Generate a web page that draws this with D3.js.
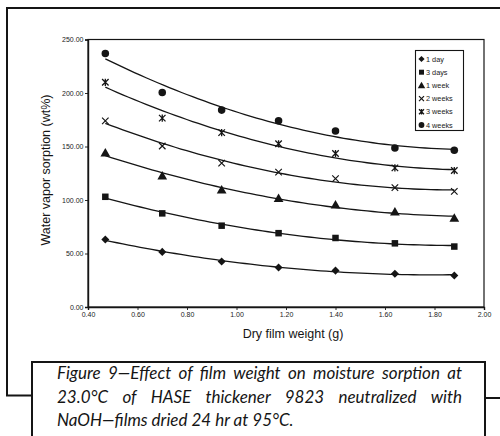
<!DOCTYPE html>
<html>
<head>
<meta charset="utf-8">
<script src="https://cdn.jsdelivr.net/npm/d3@7"></script>
<style>
  html, body { margin: 0; padding: 0; background: #fff; }
  svg { display: block; }
</style>
</head>
<body>
<svg id="chart" width="500" height="436"></svg>
<script>
// Dry film weight (g) for each measured film
const filmWeights = [0.47, 0.70, 0.94, 1.17, 1.40, 1.64, 1.88];

// Water vapor sorption (wt%) after each exposure time
const day1   = [63, 51.5, 42.5, 37, 34, 31, 29.5];
const days3  = [103, 87.5, 76, 69, 64.5, 59.5, 56.5];
const week1  = [144, 122.5, 109.5, 101.5, 95.5, 89, 83];
const weeks2 = [174, 150.5, 134.5, 126, 120, 111.5, 108];
const weeks3 = [210, 176.5, 163, 152.5, 143.5, 130, 127.5];
const weeks4 = [237, 200.5, 184, 174, 164.5, 148.5, 146.5];

const seriesNames = ["1 day", "3 days", "1 week", "2 weeks", "3 weeks", "4 weeks"];
const seriesMarkers = ["diamond", "square", "triangle", "cross", "asterisk", "circle"];
const seriesValues = [day1, days3, week1, weeks2, weeks3, weeks4];

const xTicks = [0.4, 0.6, 0.8, 1.0, 1.2, 1.4, 1.6, 1.8, 2.0];
const yTicks = [0, 50, 100, 150, 200, 250];

const captionLines = [
  "Figure 9\u2014Effect of film weight on moisture sorption at",
  "23.0\u00B0C of HASE thickener 9823 neutralized with",
  "NaOH\u2014films dried 24 hr at 95\u00B0C."
];

const svg = d3.select("#chart");
const ink = "#151515";

// outer page rule: top, left, and the joins to the caption box
svg.append("path")
  .attr("d", "M500,8 L7,8 L7,395.5 L32,395.5")
  .attr("fill", "none").attr("stroke", ink).attr("stroke-width", 2);
svg.append("line")
  .attr("x1", 485).attr("x2", 500).attr("y1", 398).attr("y2", 398)
  .attr("stroke", ink).attr("stroke-width", 2);

// plot area
const x = d3.scaleLinear().domain([0.4, 2.0]).range([88, 484]);
const y = d3.scaleLinear().domain([0, 250]).range([307, 39.5]);

svg.append("rect")
  .attr("x", x(0.4)).attr("y", y(250))
  .attr("width", x(2.0) - x(0.4)).attr("height", y(0) - y(250))
  .attr("fill", "none").attr("stroke", ink).attr("stroke-width", 1.2);

const fmt = d3.format(".2f");
const xAxis = svg.append("g")
  .attr("transform", `translate(0,${y(0)})`)
  .call(d3.axisBottom(x).tickValues(xTicks).tickFormat(fmt).tickSize(3).tickPadding(2));
const yAxis = svg.append("g")
  .attr("transform", `translate(${x(0.4)},0)`)
  .call(d3.axisLeft(y).tickValues(yTicks).tickFormat(fmt).tickSize(3).tickPadding(1.5));

[xAxis, yAxis].forEach(g => {
  g.select(".domain").attr("stroke", ink).attr("stroke-width", 1.4);
  g.selectAll(".tick line").attr("stroke", ink).attr("stroke-width", 0.9);
  g.selectAll(".tick text")
    .attr("fill", "#222")
    .style("font-family", "'Liberation Sans', Arial, sans-serif")
    .style("font-size", "7px");
});

// axis titles
svg.append("text")
  .attr("x", 293).attr("y", 338)
  .attr("text-anchor", "middle")
  .style("font-family", "'Liberation Sans', Arial, sans-serif")
  .style("font-size", "12.5px")
  .attr("fill", ink)
  .text("Dry film weight (g)");

svg.append("text")
  .attr("transform", "translate(50,170) rotate(-90)")
  .attr("text-anchor", "middle")
  .style("font-family", "'Liberation Sans', Arial, sans-serif")
  .style("font-size", "12.5px")
  .attr("fill", ink)
  .text("Water vapor sorption (wt%)");

// second-order least-squares trend line through each series
function quadFit(xs, ys) {
  let n = xs.length, s = [0, 0, 0, 0, 0], t = [0, 0, 0];
  for (let i = 0; i < n; i++) {
    const xi = xs[i], yi = ys[i];
    for (let k = 0; k < 5; k++) s[k] += Math.pow(xi, k);
    for (let k = 0; k < 3; k++) t[k] += yi * Math.pow(xi, k);
  }
  const A = [[s[0], s[1], s[2], t[0]], [s[1], s[2], s[3], t[1]], [s[2], s[3], s[4], t[2]]];
  for (let i = 0; i < 3; i++) {
    for (let j = i + 1; j < 3; j++) {
      const f = A[j][i] / A[i][i];
      for (let k = i; k < 4; k++) A[j][k] -= f * A[i][k];
    }
  }
  const c = [0, 0, 0];
  for (let i = 2; i >= 0; i--) {
    let v = A[i][3];
    for (let k = i + 1; k < 3; k++) v -= A[i][k] * c[k];
    c[i] = v / A[i][i];
  }
  return xv => c[0] + c[1] * xv + c[2] * xv * xv;
}

const line = d3.line().x(d => x(d[0])).y(d => y(d[1]));
const x0 = d3.min(filmWeights), x1 = d3.max(filmWeights);
const samples = d3.range(0, 61).map(i => x0 + (x1 - x0) * i / 60);

seriesValues.forEach(vals => {
  const f = quadFit(filmWeights, vals);
  svg.append("path")
    .attr("d", line(samples.map(s => [s, f(s)])))
    .attr("fill", "none").attr("stroke", ink).attr("stroke-width", 1.3);
});

// marker shapes
function drawMarker(g, type, cx, cy, s) {
  if (type === "circle") {
    g.append("circle").attr("cx", cx).attr("cy", cy).attr("r", s * 0.58).attr("fill", ink);
  } else if (type === "square") {
    g.append("rect").attr("x", cx - s / 2).attr("y", cy - s / 2)
      .attr("width", s).attr("height", s).attr("fill", ink);
  } else if (type === "diamond") {
    const h = s * 0.62;
    g.append("path").attr("d", `M${cx},${cy - h}L${cx + h},${cy}L${cx},${cy + h}L${cx - h},${cy}Z`).attr("fill", ink);
  } else if (type === "triangle") {
    const h = s * 0.75;
    g.append("path").attr("d", `M${cx},${cy - h}L${cx + h},${cy + h * 0.75}L${cx - h},${cy + h * 0.75}Z`).attr("fill", ink);
  } else if (type === "cross") {
    const h = s * 0.5;
    g.append("path").attr("d", `M${cx - h},${cy - h}L${cx + h},${cy + h}M${cx + h},${cy - h}L${cx - h},${cy + h}`)
      .attr("stroke", ink).attr("stroke-width", 1.2).attr("fill", "none");
  } else if (type === "asterisk") {
    const h = s * 0.5;
    g.append("path").attr("d", `M${cx - h},${cy - h}L${cx + h},${cy + h}M${cx + h},${cy - h}L${cx - h},${cy + h}M${cx},${cy - h * 1.1}L${cx},${cy + h * 1.1}`)
      .attr("stroke", ink).attr("stroke-width", 1.3).attr("fill", "none");
  }
}

const marks = svg.append("g");
seriesValues.forEach((vals, si) => {
  vals.forEach((v, i) => drawMarker(marks, seriesMarkers[si], x(filmWeights[i]), y(v), 6.5));
});

// legend
const legend = svg.append("g");
legend.append("rect")
  .attr("x", 415.5).attr("y", 50.5).attr("width", 48).attr("height", 80)
  .attr("fill", "#fff").attr("stroke", ink).attr("stroke-width", 1.1);
seriesNames.forEach((name, i) => {
  const ly = 59 + i * 13.2;
  drawMarker(legend, seriesMarkers[i], 421.5, ly, 5);
  legend.append("text")
    .attr("x", 426).attr("y", ly + 2.6)
    .style("font-family", "'Liberation Sans', Arial, sans-serif")
    .style("font-size", "7.3px")
    .attr("fill", "#222")
    .text(name);
});

// caption box
svg.append("path")
  .attr("d", "M32,440 L32,362 L485,362 L485,440")
  .attr("fill", "none").attr("stroke", ink).attr("stroke-width", 2);

const capFont = "'URW Gothic', 'Century Gothic', Lato, 'Noto Sans', sans-serif";
const capLeft = 57, capRight = 462;
const baselines = [379, 403, 426];
captionLines.forEach((txt, i) => {
  const t = svg.append("text")
    .attr("x", capLeft).attr("y", baselines[i])
    .style("font-family", capFont)
    .style("font-style", "italic")
    .style("font-size", "17px")
    .attr("fill", ink)
    .text(txt);
  if (i < 2) {
    // justify full lines across the box by widening the word gaps
    const w = t.node().getComputedTextLength();
    const gaps = txt.split(" ").length - 1;
    const extra = (capRight - capLeft - w) / gaps;
    t.style("word-spacing", extra + "px");
  }
});
</script>
</body>
</html>
